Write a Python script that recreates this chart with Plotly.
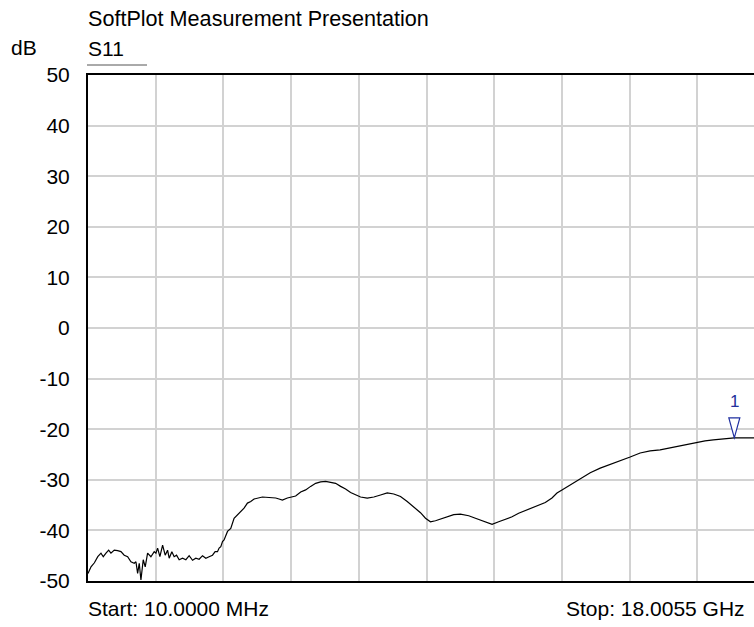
import plotly.graph_objects as go

# ---- data ----
freq_ghz = [0.01, 0.09, 0.18, 0.27, 0.355, 0.416, 0.488, 0.559, 0.62, 0.708, 0.798, 0.886, 0.973,
            1.064, 1.151, 1.239, 1.284, 1.329, 1.372, 1.417, 1.478, 1.531, 1.594, 1.682, 1.77, 1.815,
            1.86, 1.921, 1.993, 2.062, 2.125, 2.168, 2.239, 2.3, 2.364, 2.433, 2.523, 2.611, 2.699,
            2.789, 2.876, 2.964, 3.054, 3.142, 3.229, 3.319, 3.389, 3.452, 3.495, 3.54, 3.585, 3.627,
            3.718, 3.805, 3.893, 3.983, 4.071, 4.158, 4.248, 4.336, 4.424, 4.556, 4.646, 4.822, 5.0,
            5.087, 5.177, 5.31, 5.424, 5.53, 5.663, 5.796, 5.928, 6.061, 6.194, 6.327, 6.459, 6.592,
            6.725, 6.857, 6.99, 7.123, 7.255, 7.433, 7.608, 7.786, 7.964, 8.139, 8.317, 8.495, 8.67,
            8.848, 8.981, 9.113, 9.246, 9.379, 9.556, 9.732, 9.909, 10.13, 10.308, 10.485, 10.661,
            10.751, 10.926, 11.104, 11.282, 11.457, 11.635, 11.812, 11.988, 12.165, 12.343, 12.476,
            12.609, 12.784, 12.962, 13.14, 13.36, 13.625, 13.891, 14.156, 14.421, 14.687, 14.952,
            15.217, 15.483, 15.748, 16.014, 16.208, 16.412, 16.632, 16.889, 17.163, 17.19, 18.0055]
s11_db = [-48.5, -47.2, -46.4, -45.2, -44.5, -45.2, -44.5, -43.9, -44.5, -43.9, -44.0, -44.2, -44.9,
          -45.2, -46.2, -46.5, -46.2, -48.5, -46.5, -49.8, -45.8, -47.2, -44.5, -45.2, -44.2, -44.5,
          -43.5, -45.2, -42.9, -44.9, -43.9, -45.5, -44.2, -45.2, -44.9, -45.8, -45.5, -45.8, -45.0,
          -45.9, -45.5, -45.7, -45.0, -45.5, -45.2, -44.9, -44.2, -44.2, -43.5, -43.2, -42.2, -41.9,
          -40.2, -39.6, -37.6, -36.9, -36.1, -35.6, -34.6, -34.3, -33.8, -33.6, -33.4, -33.5, -33.6,
          -33.8, -34.0, -33.6, -33.4, -33.2, -32.4, -32.0, -31.3, -30.7, -30.4, -30.3, -30.5, -30.7,
          -31.3, -31.8, -32.5, -33.0, -33.4, -33.6, -33.4, -33.0, -32.6, -32.8, -33.3, -34.3, -35.3,
          -36.5, -37.6, -38.3, -38.1, -37.8, -37.4, -36.9, -36.8, -37.1, -37.6, -38.1, -38.6,
          -38.8, -38.3, -37.8, -37.3, -36.6, -36.1, -35.6, -35.1, -34.5, -33.6, -32.6,
          -32.0, -31.2, -30.3, -29.5, -28.6, -27.7, -27.0, -26.2, -25.5, -24.7, -24.3,
          -24.1, -23.7, -23.3, -22.8, -22.5, -22.3, -22.1, -21.9, -21.7, -21.7, -21.7]

start_ghz = 0.01
stop_ghz = 18.0055
y_ticks = [50, 40, 30, 20, 10, 0, -10, -20, -30, -40, -50]
marker_freq = 17.19
marker_db = -21.7
marker_label = "1"

# ---- layout geometry ----
W, H = 754, 627
L, T, B = 88, 75, 46
plot_w = W - L
plot_h = H - T - B
div = (stop_ghz - start_ghz) / 10.0
px_per_ghz = 677.0 / (stop_ghz - start_ghz)
x_max = start_ghz + plot_w / px_per_ghz

FONT = "Liberation Sans, Arial, sans-serif"


def px(x):
    return (x - L) / plot_w


def py(y):
    return (H - B - y) / plot_h


fig = go.Figure()
fig.add_trace(go.Scatter(x=freq_ghz, y=s11_db, mode="lines",
                         line=dict(color="black", width=1.2), hoverinfo="skip",
                         showlegend=False))

fig.update_layout(
    width=W, height=H,
    margin=dict(l=L, r=0, t=T, b=B, pad=0),
    paper_bgcolor="white", plot_bgcolor="white",
    font=dict(family=FONT, size=21, color="black"),
    showlegend=False,
    xaxis=dict(range=[start_ghz, x_max], tick0=start_ghz, dtick=div,
               showgrid=True, gridcolor="#d2d2d2", gridwidth=1.5,
               showticklabels=False, ticks="", zeroline=False,
               showline=True, linecolor="black", linewidth=2, mirror=True),
    yaxis=dict(range=[-50, 50], tickvals=y_ticks, ticktext=[str(v) for v in y_ticks],
               showgrid=True, gridcolor="#d2d2d2", gridwidth=1.5,
               zeroline=False, showline=True, linecolor="black", linewidth=2,
               ticks="outside", ticklen=12, tickcolor="rgba(0,0,0,0)",
               tickfont=dict(family=FONT, size=21, color="black")),
)

ann = []
ann.append(dict(text="SoftPlot Measurement Presentation", xref="paper", yref="paper",
                x=px(86), y=py(19), xanchor="left", yanchor="middle", showarrow=False,
                font=dict(size=21.6)))
ann.append(dict(text="dB", xref="paper", yref="paper", x=px(9), y=py(47),
                xanchor="left", yanchor="middle", showarrow=False, font=dict(size=21)))
ann.append(dict(text="S11", xref="paper", yref="paper", x=px(86), y=py(48),
                xanchor="left", yanchor="middle", showarrow=False, font=dict(size=21)))
ann.append(dict(text="Start: 10.0000 MHz", xref="paper", yref="paper", x=px(86), y=py(608),
                xanchor="left", yanchor="middle", showarrow=False, font=dict(size=21)))
ann.append(dict(text="Stop: 18.0055 GHz", xref="paper", yref="paper", x=px(747), y=py(608),
                xanchor="right", yanchor="middle", showarrow=False, font=dict(size=21)))
ann.append(dict(text=marker_label, x=marker_freq, y=marker_db, xref="x", yref="y",
                xanchor="center", yanchor="middle", yshift=36, showarrow=False,
                font=dict(size=17, color="#23309c")))
fig.update_layout(annotations=ann)

fig.add_shape(type="line", xref="paper", yref="paper", x0=px(87), x1=px(147),
              y0=py(65), y1=py(65), line=dict(color="#555555", width=1))
fig.add_shape(type="path", xref="x", yref="y", xsizemode="pixel", ysizemode="pixel",
              xanchor=marker_freq, yanchor=marker_db,
              path="M -5.5 20 L 5.5 20 L 0 0 Z",
              line=dict(color="#1f2fa0", width=1.2), fillcolor="white")

fig.write_html("out.html", config={"displayModeBar": False},
               post_script="document.body.style.margin='0';document.body.style.overflow='hidden';")
